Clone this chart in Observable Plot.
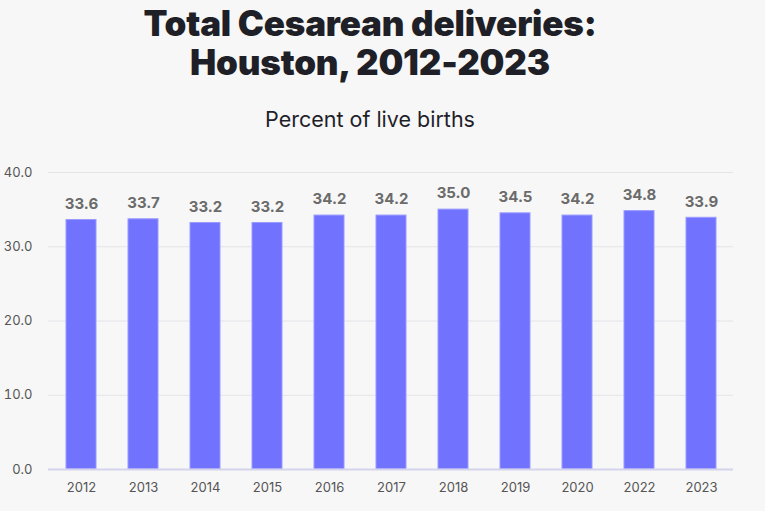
<!DOCTYPE html>
<html><head><meta charset="utf-8">
<script src="https://cdn.jsdelivr.net/npm/d3@7"></script>
<script src="https://cdn.jsdelivr.net/npm/@observablehq/plot@0.6"></script>
<style>
html,body{margin:0;padding:0;background:#f7f7f7;}
#wrap{position:relative;width:765px;height:511px;overflow:hidden;background:#f7f7f7;}
#title{position:absolute;left:0;top:4px;width:740px;font-family:Inter,"Noto Sans",sans-serif;font-weight:900;font-size:35px;line-height:39px;color:#1f1f27;text-align:center;letter-spacing:-0.2px;}
#subtitle{position:absolute;left:0;top:106px;width:740px;font-family:Inter,"Noto Sans",sans-serif;font-size:21.5px;color:#1f1f2a;text-align:center;}
#chart{position:absolute;left:0;top:150px;}
</style></head><body>
<div id="wrap">
<div id="title">Total Cesarean deliveries:<br>Houston, 2012-2023</div>
<div id="subtitle">Percent of live births</div>
<div id="chart"></div>
</div>
<script>
const years = ["2012","2013","2014","2015","2016","2017","2018","2019","2020","2022","2023"];
const values = [33.6,33.7,33.2,33.2,34.2,34.2,35.0,34.5,34.2,34.8,33.9];
const yTicks = [0,10,20,30,40];
const data = years.map((y,i)=>({year:y,value:values[i]}));
const chart = Plot.plot({
  width:765, height:361,
  marginLeft:48, marginRight:32, marginTop:22, marginBottom:42,
  style:{background:"#f7f7f7", fontFamily:"Inter, 'Noto Sans', sans-serif", fontSize:"13px", color:"#555"},
  x:{domain:years, paddingInner:0.52, paddingOuter:0.25, label:null, tickSize:0, tickPadding:13},
  y:{domain:[0,40], ticks:yTicks, tickFormat:d=>d.toFixed(1), label:null, tickSize:0, tickPadding:16},
  marks:[
    Plot.gridY(yTicks,{stroke:"#e4e4e8", strokeOpacity:1}),
    Plot.barY(data,{x:"year", y:"value", fill:"#7173ff", stroke:"#9a9bff", strokeWidth:1}),
    Plot.ruleY([0],{stroke:"#d4d4ec", strokeWidth:2}),
    Plot.text(data,{x:"year", y:"value", text:d=>d.value.toFixed(1), dy:-16, fill:"#6b6b6b", fontWeight:"bold", fontSize:15})
  ]
});
document.getElementById("chart").appendChild(chart);
</script>
</body></html>
